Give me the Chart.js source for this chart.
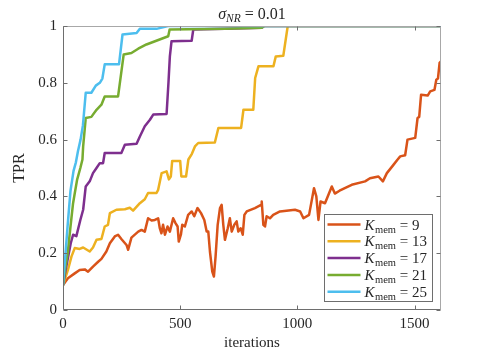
<!DOCTYPE html>
<html>
<head>
<meta charset="utf-8">
<script src="https://cdn.jsdelivr.net/npm/chart.js@4.4.0/dist/chart.umd.min.js"></script>
<style>
html,body{margin:0;padding:0;background:#fff;}
canvas{display:block;}
</style>
</head>
<body>
<canvas id="c" width="479" height="353"></canvas>
<script>
// ---- data ----
const kmemValues = [9, 13, 17, 21, 25];
const seriesColors = ['#D95319', '#EDB120', '#7E2F8E', '#77AC30', '#4DBEEE'];
const xTicks = [0, 500, 1000, 1500];
const yTicks = [0, 0.2, 0.4, 0.6, 0.8, 1];
const xTickLabels = ['0', '500', '1000', '1500'];
const yTickLabels = ['0', '0.2', '0.4', '0.6', '0.8', '1'];
const xMax = 1613;

const k9x = [0,21,50,71,93,107,128,150,164,185,200,221,235,249,271,278,292,321,335,349,363,378,392,406,413,420,427,435,446,456,470,480,489,494,503,509,520,534,549,560,574,589,603,613,620,627,637,644,651,660,670,677,684,691,703,712,720,731,741,748,758,767,774,784,819,845,848,855,862,869,883,897,926,990,1012,1026,1050,1071,1081,1090,1099,1118,1147,1160,1180,1232,1289,1310,1346,1365,1382,1410,1427,1439,1460,1470,1503,1513,1520,1528,1556,1567,1585,1593,1600,1607,1613];
const k9y = [0.088,0.112,0.129,0.141,0.143,0.135,0.153,0.17,0.18,0.206,0.235,0.259,0.265,0.25,0.229,0.212,0.255,0.276,0.282,0.276,0.323,0.315,0.317,0.323,0.288,0.27,0.3,0.265,0.294,0.276,0.323,0.306,0.294,0.241,0.265,0.3,0.294,0.335,0.347,0.33,0.359,0.341,0.317,0.276,0.276,0.206,0.135,0.118,0.188,0.3,0.359,0.37,0.3,0.247,0.288,0.323,0.276,0.3,0.312,0.276,0.288,0.265,0.335,0.347,0.359,0.37,0.382,0.3,0.294,0.33,0.323,0.335,0.347,0.353,0.347,0.323,0.335,0.429,0.4,0.317,0.382,0.376,0.435,0.41,0.42,0.441,0.453,0.464,0.47,0.453,0.482,0.511,0.529,0.541,0.545,0.6,0.606,0.676,0.68,0.758,0.755,0.77,0.775,0.811,0.815,0.87,0.876];

const k13x = [0,21,36,50,71,86,114,128,143,164,178,192,200,228,264,285,299,328,349,363,399,406,421,442,452,460,466,500,505,525,535,550,563,577,648,663,760,770,812,820,834,898,908,940,959,1613];
const k13y = [0.088,0.141,0.188,0.218,0.215,0.22,0.206,0.22,0.247,0.25,0.294,0.30,0.341,0.353,0.355,0.36,0.35,0.376,0.39,0.412,0.412,0.423,0.482,0.488,0.46,0.47,0.525,0.525,0.47,0.47,0.53,0.55,0.576,0.588,0.59,0.641,0.641,0.705,0.705,0.817,0.858,0.858,0.893,0.895,1.0,1.0];

const k17x = [0,14,33,43,57,74,86,97,114,128,143,157,171,178,249,264,314,328,349,371,385,442,450,456,463,549,556,691,848,860,1613];
const k17y = [0.088,0.153,0.235,0.265,0.26,0.317,0.353,0.435,0.453,0.482,0.5,0.517,0.517,0.553,0.553,0.582,0.585,0.611,0.647,0.67,0.688,0.69,0.8,0.893,0.946,0.948,0.988,0.99,0.994,1.0,1.0];

const k21x = [0,10,20,32,43,50,60,74,83,86,97,121,143,164,178,235,259,292,321,356,449,455,691,848,860,1613];
const k21y = [0.088,0.15,0.2,0.294,0.376,0.41,0.458,0.5,0.53,0.576,0.676,0.68,0.705,0.723,0.752,0.752,0.9,0.905,0.92,0.935,0.964,0.988,0.99,0.994,1.0,1.0];

const k25x = [0,8,20,32,45,55,64,75,85,97,121,140,157,168,178,239,254,314,328,399,448,1613];
const k25y = [0.088,0.17,0.3,0.42,0.49,0.52,0.56,0.6,0.65,0.765,0.765,0.79,0.80,0.815,0.865,0.865,0.97,0.975,0.99,0.99,1.0,1.0];

const seriesX = [k9x, k13x, k17x, k21x, k25x];
const seriesY = [k9y, k13y, k17y, k21y, k25y];

function toPoints(xs, ys) { return xs.map((x, i) => ({x: x, y: ys[i]})); }

const datasets = kmemValues.map((k, i) => ({
  label: 'Kmem = ' + k,
  kmem: k,
  data: toPoints(seriesX[i], seriesY[i]),
  borderColor: seriesColors[i],
  backgroundColor: seriesColors[i],
  borderWidth: 2.5,
  pointRadius: 0,
  tension: 0,
  fill: false,
  borderJoinStyle: 'round',
  borderCapStyle: 'round',
  order: kmemValues.length - 1 - i
}));

const SERIF = '"Liberation Serif", "DejaVu Serif", serif';
const TXT = '#262626';

const framePlugin = {
  id: 'frame',
  afterDraw(chart) {
    const {ctx, chartArea: a, scales} = chart;
    const L = Math.round(a.left) + 0.5, R = Math.round(a.right) - 0.5;
    const T = Math.round(a.top) + 0.5, B = Math.round(a.bottom) - 0.5;
    ctx.save();
    ctx.lineWidth = 1;
    ctx.strokeStyle = '#a8a8a8';
    ctx.beginPath(); ctx.moveTo(L, T); ctx.lineTo(R, T); ctx.lineTo(R, B); ctx.stroke();
    ctx.strokeStyle = '#6e6e6e';
    ctx.beginPath(); ctx.moveTo(L, T); ctx.lineTo(L, B); ctx.lineTo(R, B); ctx.stroke();
    ctx.strokeStyle = '#6e6e6e';
    const tl = 4;
    xTicks.forEach(v => {
      const px = Math.round(scales.x.getPixelForValue(v)) + 0.5;
      ctx.beginPath(); ctx.moveTo(px, B); ctx.lineTo(px, B - tl); ctx.moveTo(px, T); ctx.lineTo(px, T + tl); ctx.stroke();
    });
    yTicks.forEach(v => {
      const py = Math.round(scales.y.getPixelForValue(v)) + 0.5;
      ctx.beginPath(); ctx.moveTo(L, py); ctx.lineTo(L + tl, py); ctx.moveTo(R, py); ctx.lineTo(R - tl, py); ctx.stroke();
    });

    // title: sigma_NR = 0.01
    ctx.fillStyle = TXT;
    ctx.textBaseline = 'alphabetic';
    const cx = (a.left + a.right) / 2;
    const base = 19;
    const parts = [
      {t: 'σ', f: 'italic 16px ' + SERIF, dy: 0},
      {t: 'NR', f: 'italic 11.5px ' + SERIF, dy: 3},
      {t: ' = 0.01', f: '16px ' + SERIF, dy: 0}
    ];
    let w = 0;
    parts.forEach(p => { ctx.font = p.f; p.w = ctx.measureText(p.t).width; w += p.w; });
    let x0 = cx - w / 2;
    ctx.textAlign = 'left';
    parts.forEach(p => { ctx.font = p.f; ctx.fillText(p.t, x0, base + p.dy); x0 += p.w; });

    // legend
    const boxR = Math.round(a.right) - 8.5, boxB = Math.round(a.bottom) - 8.5;
    const boxW = 108, boxH = 87;
    const boxL = boxR - boxW, boxT = boxB - boxH;
    ctx.fillStyle = '#ffffff';
    ctx.fillRect(boxL, boxT, boxW, boxH);
    ctx.strokeStyle = '#6e6e6e';
    ctx.lineWidth = 1;
    ctx.strokeRect(boxL, boxT, boxW, boxH);
    chart.data.datasets.forEach((d, i) => {
      const cy = boxT + 10 + i * 16.8;
      ctx.strokeStyle = d.borderColor;
      ctx.lineWidth = 2.5;
      ctx.beginPath(); ctx.moveTo(boxL + 3, cy); ctx.lineTo(boxL + 36, cy); ctx.stroke();
      ctx.fillStyle = TXT;
      let tx = boxL + 40;
      const by = cy + 5;
      ctx.font = 'italic 15px ' + SERIF; ctx.fillText('K', tx, by); tx += ctx.measureText('K').width + 0.5;
      ctx.font = '10.5px ' + SERIF; ctx.fillText('mem', tx, by + 3); tx += ctx.measureText('mem').width;
      ctx.font = '15px ' + SERIF; ctx.fillText(' = ' + d.kmem, tx, by);
    });
    ctx.restore();
  }
};

new Chart(document.getElementById('c'), {
  type: 'line',
  data: { datasets: datasets },
  options: {
    responsive: false,
    devicePixelRatio: 1,
    animation: false,
    layout: { padding: { left: 0, right: 38, top: 26, bottom: 0 } },
    plugins: { legend: { display: false }, title: { display: false }, tooltip: { enabled: false } },
    scales: {
      x: {
        type: 'linear',
        min: 0, max: xMax,
        afterBuildTicks(s) { s.ticks = xTicks.map(v => ({value: v})); },
        afterFit(s) { s.height = 43; },
        grid: { display: false, drawTicks: false },
        border: { display: false },
        ticks: {
          color: TXT, font: { family: SERIF, size: 15 }, padding: 5, maxRotation: 0,
          callback: (v) => { const i = xTicks.indexOf(v); return i >= 0 ? xTickLabels[i] : ''; }
        },
        title: { display: true, text: 'iterations', color: TXT, font: { family: SERIF, size: 15 }, padding: { top: 0, bottom: 1 } }
      },
      y: {
        type: 'linear',
        min: 0, max: 1,
        afterBuildTicks(s) { s.ticks = yTicks.map(v => ({value: v})); },
        afterFit(s) { s.width = 63; },
        grid: { display: false, drawTicks: false },
        border: { display: false },
        ticks: {
          color: TXT, font: { family: SERIF, size: 15 }, padding: 6,
          callback: (v) => { const i = yTicks.findIndex(t => Math.abs(t - v) < 1e-9); return i >= 0 ? yTickLabels[i] : ''; }
        },
        title: { display: true, text: 'TPR', color: TXT, font: { family: SERIF, size: 16 }, padding: { top: 10, bottom: 0 } }
      }
    }
  },
  plugins: [framePlugin]
});
</script>
</body>
</html>
